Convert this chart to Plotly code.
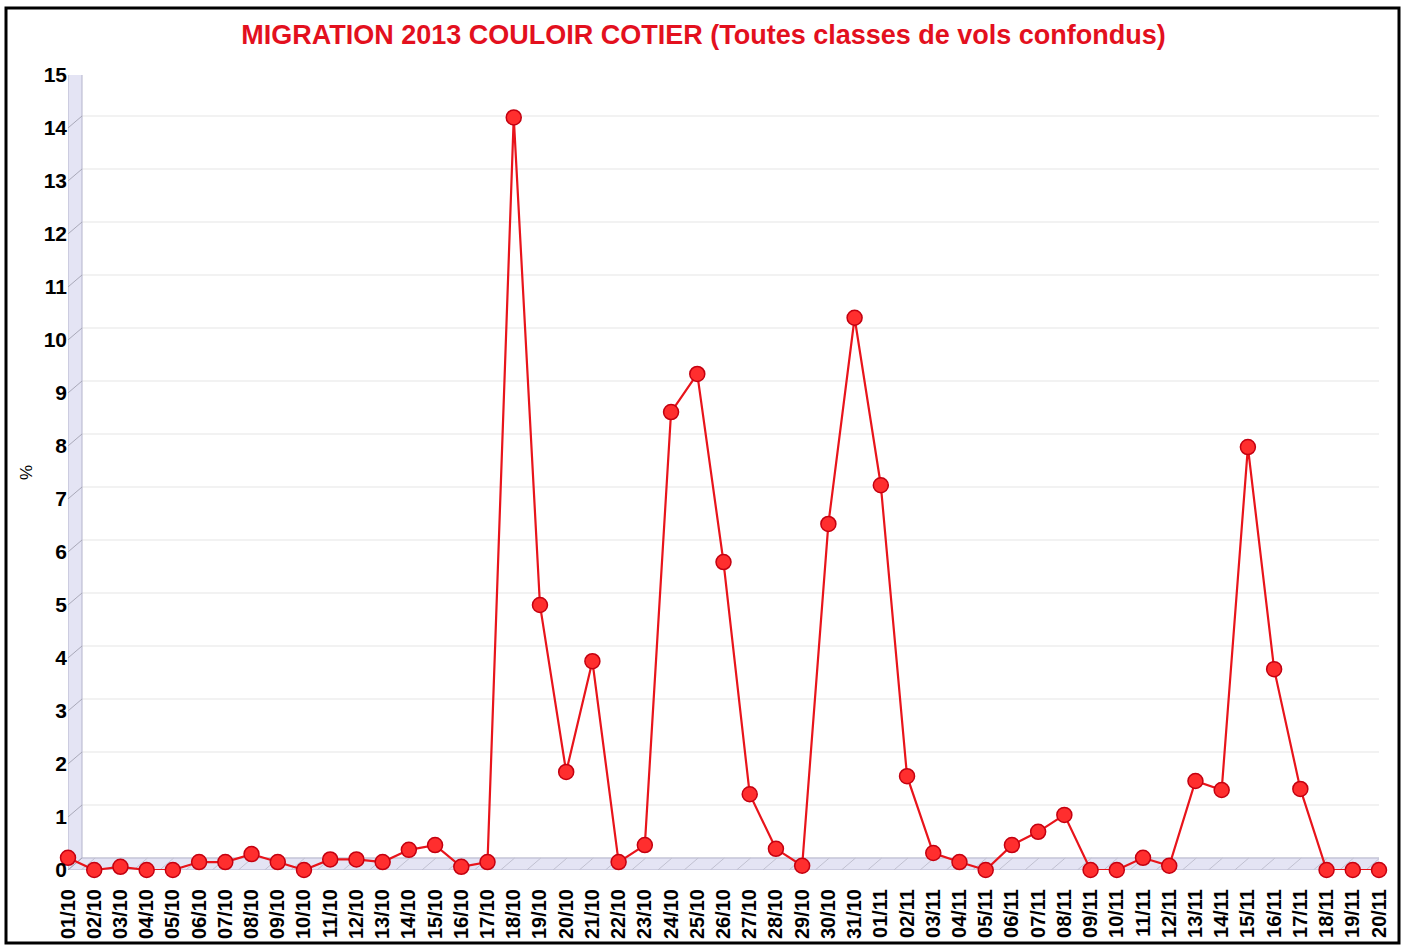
import plotly.graph_objects as go

dates = ["01/10","02/10","03/10","04/10","05/10","06/10","07/10","08/10","09/10","10/10",
         "11/10","12/10","13/10","14/10","15/10","16/10","17/10","18/10","19/10","20/10",
         "21/10","22/10","23/10","24/10","25/10","26/10","27/10","28/10","29/10","30/10",
         "31/10","01/11","02/11","03/11","04/11","05/11","06/11","07/11","08/11","09/11",
         "10/11","11/11","12/11","13/11","14/11","15/11","16/11","17/11","18/11","19/11","20/11"]
values = [0.23, 0.0, 0.06, 0.0, 0.0, 0.15, 0.15, 0.3, 0.15, 0.0,
          0.2, 0.2, 0.15, 0.38, 0.47, 0.06, 0.15, 14.2, 5.0, 1.85,
          3.94, 0.15, 0.47, 8.64, 9.36, 5.81, 1.43, 0.4, 0.08, 6.53,
          10.42, 7.26, 1.77, 0.32, 0.15, 0.0, 0.47, 0.72, 1.04, 0.0,
          0.0, 0.23, 0.08, 1.68, 1.51, 7.98, 3.79, 1.53, 0.0, 0.0, 0.0]
y_ticks = list(range(0, 16))

TITLE = "MIGRATION 2013 COULOIR COTIER (Toutes classes de vols confondus)"
W, H = 1407, 945
ML, MR, MT, MB = 68, 28, 75, 75
PW, PH = W - ML - MR, H - MT - MB
DX_PX, DY_PX = 14, 12           # pseudo-3D depth offset
n = len(dates)
x_idx = list(range(n))
ymax = 15
dy = DY_PX / PH * ymax           # depth in data units (y)
dxc = DX_PX / PW * (n - 1)       # depth in data units (x)

def px_x(p):
    return (p - ML) / PW

def px_y(p):
    return 1 - (p - MT) / PH

wall_fill = "#E4E4F4"
wall_line = "#B4B4CC"
shapes = []

# back-wall gridlines
for k in y_ticks:
    shapes.append(dict(type="line", xref="x", yref="y", x0=dxc, x1=(n - 1) + dxc,
                       y0=k + dy, y1=k + dy, line=dict(color="#EEEEEE", width=1.5), layer="below"))
# right edge of back wall
shapes.append(dict(type="line", xref="x", yref="y", x0=(n - 1) + dxc, x1=(n - 1) + dxc,
                   y0=dy, y1=ymax + dy, line=dict(color="#F0F0F0", width=1), layer="below"))

# left wall
shapes.append(dict(type="path", xref="x", yref="y",
                   path=f"M 0 0 L {dxc} {dy} L {dxc} {ymax + dy} L 0 {ymax} Z",
                   fillcolor=wall_fill, line=dict(color=wall_line, width=1), layer="below"))
# floor
shapes.append(dict(type="path", xref="x", yref="y",
                   path=f"M 0 0 L {n - 1} 0 L {n - 1 + dxc} {dy} L {dxc} {dy} Z",
                   fillcolor=wall_fill, line=dict(color=wall_line, width=1), layer="below"))
# slanted ticks on wall
for k in y_ticks:
    shapes.append(dict(type="line", xref="x", yref="y", x0=-0.05, x1=dxc, y0=k - 0.02, y1=k + dy,
                       line=dict(color="#A8A8B8", width=1), layer="below"))
# slanted ticks on floor
for i in range(n - 1):
    xm = i + 0.5
    shapes.append(dict(type="line", xref="x", yref="y", x0=xm, x1=xm + dxc, y0=0, y1=dy,
                       line=dict(color="#C0C0D0", width=1), layer="below"))
    shapes.append(dict(type="line", xref="x", yref="y", x0=xm, x1=xm, y0=0, y1=-0.06,
                       line=dict(color="#A0A0B0", width=1), layer="below"))

# outer border
shapes.append(dict(type="rect", xref="paper", yref="paper",
                   x0=px_x(6), x1=px_x(1399), y0=px_y(8), y1=px_y(943),
                   line=dict(color="black", width=3), fillcolor="rgba(0,0,0,0)", layer="above"))

fig = go.Figure()
fig.add_trace(go.Scatter(
    x=x_idx, y=values, mode="lines+markers",
    line=dict(color="#E8141B", width=2.2),
    marker=dict(size=15, color="#FF2E2E", line=dict(color="#C40010", width=1.5)),
    cliponaxis=False, showlegend=False,
))

fig.update_layout(
    width=W, height=H,
    margin=dict(l=ML, r=MR, t=MT, b=MB, autoexpand=False),
    paper_bgcolor="white", plot_bgcolor="white",
    font=dict(family="Liberation Sans, Arial, sans-serif", color="black"),
    title=dict(text=f"<b>{TITLE}</b>", x=0.5, xref="container", xanchor="center",
               y=1 - 35 / H, yanchor="middle",
               font=dict(size=27, color="#E3101E", family="Liberation Sans, Arial, sans-serif")),
    xaxis=dict(range=[0, n - 1], tickmode="array", tickvals=x_idx,
               ticktext=[f"<b>{d}</b>" for d in dates], tickangle=-90,
               tickfont=dict(size=20), showgrid=False, zeroline=False, showline=False,
               ticks="", ticklen=0, ticklabelstandoff=14, automargin=False),
    yaxis=dict(range=[0, ymax], tickmode="array", tickvals=y_ticks,
               ticktext=[f"<b>{v}</b>" for v in y_ticks], tickfont=dict(size=21),
               showgrid=False, zeroline=False, showline=False, ticks="", automargin=False,
               title=dict(text="%", font=dict(size=17), standoff=6)),
    shapes=shapes,
)

fig.write_html("out.html", config={"displayModeBar": False},
               post_script="document.body.style.margin='0px';document.body.style.overflow='hidden';")
